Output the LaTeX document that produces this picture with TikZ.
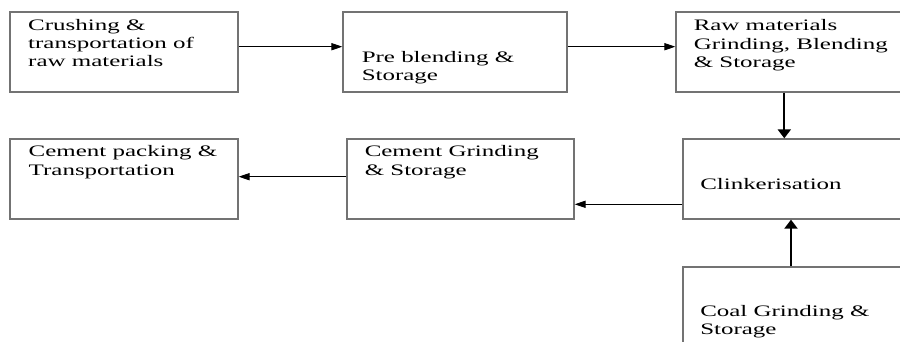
\documentclass[tikz,border=0pt]{standalone}
\usepackage{fontspec}
\setmainfont[FakeStretch=1.56]{Liberation Serif}
\usetikzlibrary{positioning, arrows.meta}

\begin{document}
\begin{tikzpicture}[
        x=0.5pt, y=-0.5pt,
        stage/.style={rectangle, draw=black!55, line width=0.65pt, inner sep=0pt},
        txt/.style={anchor=base west, inner sep=0pt, align=left, font=\fontsize{8}{9.15}\selectfont},
        arrow/.style={-{Triangle[length=5.5pt, width=3.6pt]}, line width=0.5pt},
        varrow/.style={-{Triangle[length=4.5pt, width=6.5pt]}, line width=1pt}
    ]
    \clip (0,0) rectangle (900,342);
    % Top row
    \node[stage, minimum width=114pt, minimum height=40pt] (crush) at (124,52) {};
    \node[stage, minimum width=112pt, minimum height=40pt] (pre) at (455,52) {};
    \node[stage, minimum width=117pt, minimum height=40pt] (raw) at (793,52) {};
    
    % Middle row
    \node[stage, minimum width=114pt, minimum height=40pt] (pack) at (124,179) {};
    \node[stage, minimum width=113.5pt, minimum height=40pt] (grind) at (460.5,179) {};
    \node[stage, minimum width=113.5pt, minimum height=40pt] (clink) at (796.5,179) {};
    
    % Bottom
    \node[stage, minimum width=113.5pt, minimum height=46.5pt] (coal) at (796.5,313.5) {};
    
    % Texts (anchored on the last line)
    \node[txt] (crushtxt) at ([xshift=9.25pt, yshift=-27.65pt]crush.north west) {Crushing \&\\transportation of\\raw materials};
    \node[txt] (pretxt) at ([xshift=9.5pt, yshift=-34.5pt]pre.north west) {Pre blending \&\\Storage};
    \node[txt] (rawtxt) at ([xshift=9pt, yshift=-28pt]raw.north west) {Raw materials\\Grinding, Blending\\\& Storage};
    \node[txt] (packtxt) at ([xshift=9.5pt, yshift=-18.35pt]pack.north west) {Cement packing \&\\Transportation};
    \node[txt] (grindtxt) at ([xshift=9pt, yshift=-18.35pt]grind.north west) {Cement Grinding\\\& Storage};
    \node[txt] (clinktxt) at ([xshift=8.75pt, yshift=-25.7pt]clink.north west) {Clinkerisation};
    \node[txt] (coaltxt) at ([xshift=8.75pt, yshift=-34pt]coal.north west) {Coal Grinding \&\\Storage};
    
    % Connections
    \draw[arrow] ([yshift=2.65pt]crush.east) -- ([yshift=2.65pt]pre.west);
    \draw[arrow] ([yshift=2.65pt]pre.east) -- ([yshift=2.65pt]raw.west);
    \coordinate (rawout) at ([xshift=-4.35pt]raw.south);
    \draw[varrow] (rawout) -- (rawout |- clink.north);
    \draw[varrow] ([xshift=-2.75pt]coal.north) -- ([xshift=-2.75pt]clink.south);
    \draw[arrow] ([yshift=-12.65pt]clink.west) -- ([yshift=-12.65pt]grind.east);
    \draw[arrow] ([yshift=1.15pt]grind.west) -- ([yshift=1.15pt]pack.east);
\end{tikzpicture}
\end{document}
